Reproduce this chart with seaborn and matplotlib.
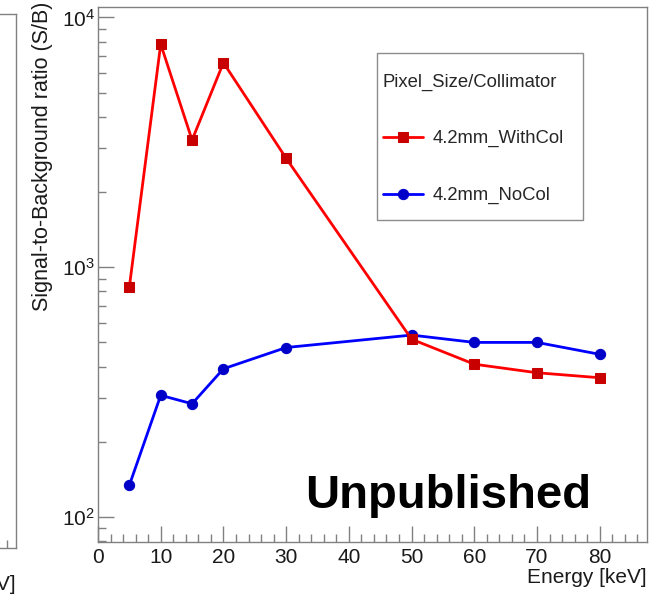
import numpy as np
import pandas as pd
import seaborn as sns
import matplotlib.pyplot as plt
from matplotlib.ticker import MultipleLocator, LogLocator, NullFormatter
from matplotlib.patches import Rectangle

# data
energy = [5, 10, 15, 20, 30, 50, 60, 70, 80]
with_col = [834, 7820, 3230, 6590, 2730, 515, 409, 378, 361]
no_col = [134, 307, 284, 392, 477, 535, 500, 500, 448]
series_names = ["4.2mm_WithCol", "4.2mm_NoCol"]
legend_title = "Pixel_Size/Collimator"
x_label = "Energy [keV]"
y_label = "Signal-to-Background ratio (S/B)"
x_range = (0, 87.5)
y_range = (79.6, 11030)

df = pd.DataFrame({
    "energy": energy * 2,
    "sb": with_col + no_col,
    "config": [series_names[0]] * len(energy) + [series_names[1]] * len(energy),
})

sns.set_style("white")
plt.rcParams["font.family"] = ["Liberation Sans", "DejaVu Sans"]
plt.rcParams["mathtext.fontset"] = "custom"
plt.rcParams["mathtext.rm"] = "Liberation Sans"

frame_col = "#808080"
text_col = "#1a1a1a"


def style_axis(ax):
    ax.set_xlim(*x_range)
    ax.set_yscale("log")
    ax.set_ylim(*y_range)
    ax.xaxis.set_major_locator(MultipleLocator(10))
    ax.xaxis.set_minor_locator(MultipleLocator(2))
    ax.yaxis.set_major_locator(LogLocator(base=10))
    ax.yaxis.set_minor_locator(LogLocator(base=10, subs=np.arange(2, 10)))
    ax.yaxis.set_minor_formatter(NullFormatter())
    for s in ax.spines.values():
        s.set_color(frame_col)
        s.set_linewidth(1.0)
    ax.tick_params(which="both", direction="in", color=frame_col, width=1.0,
                   labelsize=15, labelcolor=text_col,
                   bottom=True, left=True, top=False, right=False)
    ax.tick_params(which="major", length=11.5)
    ax.tick_params(which="minor", length=5.8)
    ax.tick_params(axis="x", pad=4.5)
    ax.tick_params(axis="y", pad=2.2)


fig = plt.figure(figsize=(6.49, 5.94), dpi=100)

# neighbouring panel, mostly off the left edge
ax0 = fig.add_axes([0.0247 - 0.8455, 0.0769, 0.8455, 0.8995])
style_axis(ax0)
ax0.set_xlabel(x_label, loc="right", fontsize=15, color=text_col, labelpad=1)

ax = fig.add_axes([0.151, 0.088, 0.8455, 0.9005])
style_axis(ax)

sns.lineplot(data=df[df["config"] == series_names[1]], x="energy", y="sb",
             color="#0000ff", lw=2.0, marker="o", ms=7.4, mfc="#0000c8", mec="#0000c8",
             label=series_names[1], errorbar=None, ax=ax)
sns.lineplot(data=df[df["config"] == series_names[0]], x="energy", y="sb",
             color="#ff0000", lw=2.0, marker="s", ms=7.8, mfc="#c80000", mec="#c80000",
             label=series_names[0], errorbar=None, ax=ax)

ax.set_xlabel(x_label, loc="right", fontsize=15, color=text_col, labelpad=1)
ax.set_ylabel(y_label, loc="top", fontsize=15.5, color=text_col)
ax.yaxis.set_label_coords(-0.082, 1.009)

# legend box
ax.add_patch(Rectangle((0.508, 0.601), 0.3765, 0.313, transform=ax.transAxes,
                       fill=False, ec="#8c8c8c", lw=1.0, zorder=5))
handles, labels = ax.get_legend_handles_labels()
order = [labels.index(n) for n in series_names]
leg = ax.legend([handles[i] for i in order], [labels[i] for i in order],
                title=legend_title, loc="upper left", bbox_to_anchor=(0.519, 0.874),
                frameon=False, fontsize=13.3, title_fontsize=13.3, alignment="left",
                borderpad=0, borderaxespad=0, labelspacing=2.15, handlelength=2.2,
                handletextpad=0.5)
leg._legend_box.sep = 28

ax.text(0.377, 0.063, "Unpublished", transform=ax.transAxes, fontsize=34,
        fontweight="bold", color="black", ha="left", va="baseline")

fig.savefig("out.png", dpi=100)
